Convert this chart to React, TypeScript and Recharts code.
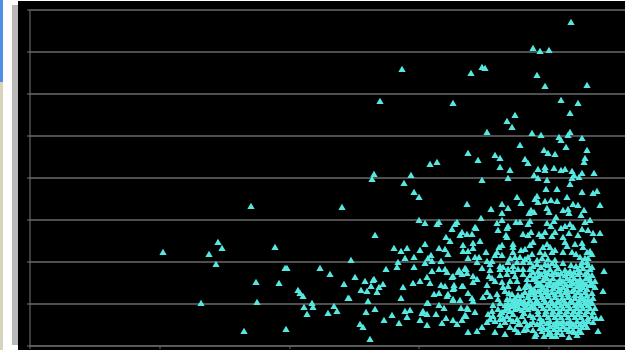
import { ScatterChart, Scatter, XAxis, YAxis, ZAxis, CartesianGrid } from 'recharts';

const xTicks = [0, 130, 260, 389, 519];
const yTicks = [0, 42, 84, 126, 168, 210, 252, 294, 336];

// far left and upper outliers
const outliers = [
  [541,323],[503,297],[510,294],[519,295],[452,278],[455,277],[441,272],[507,270],[515,259],[557,260],
  [423,242],[531,245],[548,242],[540,232],[485,230],[477,224],[482,218],[457,213],[502,212],[511,210],
  [540,213],[538,210],[529,208],[531,205],[552,207],[490,200],[536,198],[514,195],[518,192],[525,191],
  [557,195],[438,192],[465,190],[470,187],[448,185],[495,186],[498,182],[555,187],[554,183],[470,178],
  [480,175],[508,176],[515,178],[515,175],[524,177],[531,175],[535,176],[542,174],[552,172],[564,172],
  [544,170],[504,170],[508,167],[478,167],[452,165],[517,165],[549,168],[542,167],[540,161],[516,156],
  [527,156],[552,153],[567,154],[563,152],[537,148],[487,148],[491,142],[507,149],[505,146],[508,143],
  [515,144],[521,145],[527,144],[437,141],[472,141],[478,137],[461,136],[472,132],[517,137],[519,133],
  [533,135],[538,136],[539,132],[543,141],[548,140],[554,135],[570,140],[551,130],[501,135],[504,133],
  [499,132],[451,127],[526,128],[524,124],[560,125],[555,123],[472,125],[486,123],[490,123],[500,124],
  [498,121],[427,123],[467,122],[517,122],[521,119],[540,121],[535,119],[478,119],[445,118],
  [372,276],[350,244],[407,183],[400,181],[344,171],[342,166],[381,170],[374,162],[384,153],[389,148],
  [312,138],[221,139],[188,103],[192,97],[133,93],[179,91],[245,98],[186,81],[255,77],[257,77],
  [226,63],[249,62],[268,55],[171,42],[227,43],[214,14],[256,16],
];

// middle of the cloud
const midBand = [
  [389,125],[395,122],[409,123],[407,121],[425,121],[345,110],[422,116],[432,113],[430,110],[437,111],
  [416,108],[420,104],[395,101],[433,100],[364,97],[377,97],[371,94],[390,95],[409,97],[415,96],
  [433,94],[438,94],[418,91],[401,90],[375,87],[384,88],[398,87],[438,87],[321,85],[368,83],
  [411,84],[395,82],[402,84],[367,78],[384,78],[290,77],[356,76],[402,74],[409,76],[415,76],
  [417,73],[429,75],[436,76],[432,71],[437,72],[300,71],[325,68],[397,68],[422,68],[335,64],
  [344,66],[343,65],[383,62],[390,64],[400,62],[314,61],[353,61],[349,58],[341,59],[373,58],
  [411,60],[415,59],[424,60],[432,59],[331,55],[337,54],[347,53],[409,52],[404,51],[418,51],
  [417,49],[424,57],[438,52],[319,47],[318,47],[371,47],[423,45],[430,45],[338,44],[273,49],
  [270,52],[397,42],[398,42],[282,42],[274,38],[283,38],[304,39],[409,40],[414,37],[431,37],
  [438,36],[336,33],[345,36],[375,34],[380,35],[298,32],[307,34],[277,31],[393,34],[392,32],
  [397,31],[406,31],[362,30],[435,30],[377,28],[416,27],[354,25],[390,25],[423,25],[432,25],
  [369,22],[412,22],[427,21],[330,21],[333,18],[397,20],[438,13],[340,6],
];

// dense lower right block
const denseBand = [
  [477,117],[468,115],[501,113],[531,117],[543,118],[552,116],[558,115],[563,112],[570,112],[442,111],
  [446,117],[476,110],[477,108],[493,111],[498,110],[509,111],[515,113],[512,109],[525,113],[522,109],
  [533,108],[539,112],[548,110],[564,105],[450,104],[443,102],[472,100],[469,98],[483,101],[483,98],
  [503,103],[500,100],[495,96],[517,101],[513,98],[520,98],[535,103],[537,99],[545,101],[552,102],
  [553,98],[557,93],[560,94],[443,97],[456,93],[467,93],[465,90],[472,90],[483,93],[491,95],
  [502,91],[510,93],[515,91],[522,93],[525,95],[533,93],[542,93],[546,91],[445,88],[449,88],
  [457,84],[462,84],[460,81],[447,83],[480,87],[485,88],[490,88],[495,86],[498,88],[507,85],
  [512,87],[518,86],[525,85],[550,88],[555,87],[558,87],[562,91],[478,83],[487,83],[493,83],
  [500,83],[507,81],[515,81],[522,82],[552,83],[557,83],[470,79],[483,79],[435,77],[428,73],
  [452,77],[460,75],[459,69],[470,76],[473,78],[478,76],[483,74],[488,76],[493,76],[500,76],
  [503,73],[508,74],[515,74],[520,76],[528,77],[535,75],[540,74],[548,76],[553,77],[560,76],
  [574,74],[423,69],[443,69],[447,66],[443,63],[470,70],[477,71],[485,69],[493,71],[500,70],
  [508,69],[515,69],[522,71],[528,71],[535,70],[542,70],[548,71],[555,71],[562,70],[462,67],
  [465,64],[457,60],[472,63],[480,64],[487,64],[507,64],[513,65],[520,64],[527,63],[533,64],
  [540,65],[547,64],[553,63],[560,65],[565,64],[433,59],[473,58],[478,59],[500,59],[507,60],
  [513,58],[520,60],[527,59],[533,58],[540,60],[547,59],[553,58],[560,60],[565,58],[573,54],
  [457,53],[442,47],[423,56],[423,46],[453,48],[460,49],[467,51],[475,54],[482,51],[488,50],
  [495,53],[502,53],[508,54],[515,53],[522,53],[528,54],[535,53],[542,54],[548,53],[555,53],
  [562,52],[468,46],[477,46],[483,44],[490,46],[498,48],[505,48],[512,48],[518,49],[525,48],
  [532,47],[538,48],[545,47],[552,47],[558,46],[563,47],[443,44],[463,40],[475,40],[480,39],
  [487,40],[495,41],[502,40],[508,42],[515,43],[522,42],[528,43],[535,42],[542,43],[548,42],
  [555,42],[562,42],[462,34],[468,36],[475,35],[437,37],[445,33],[480,34],[485,36],[492,35],
  [498,36],[505,37],[513,37],[520,37],[527,37],[533,37],[540,37],[547,37],[553,37],[560,37],
  [565,37],[436,29],[458,31],[463,29],[470,31],[477,29],[483,31],[492,29],[500,30],[508,31],
  [515,31],[522,31],[528,31],[535,31],[542,31],[548,31],[555,31],[562,29],[571,27],[566,27],
  [457,23],[452,18],[447,14],[465,24],[470,20],[475,23],[483,24],[490,21],[485,16],[495,24],
  [500,21],[507,21],[513,24],[520,24],[527,24],[533,24],[540,24],[547,24],[553,24],[558,24],
  [563,23],[552,18],[557,18],[568,14],[513,18],[520,19],[527,19],[533,19],[540,19],[546,19],
  [465,13],[475,11],[488,13],[497,16],[506,11],[512,14],[520,13],[527,13],[539,14],[532,11],
  [522,9],[539,8],[547,10],[505,9],
];

// extra marks where the block merges into one solid area
const solidCore = [
  [503,79],[511,78],[518,80],[526,80],[533,82],[541,80],[546,79],[551,80],[558,80],[562,78],
  [505,68],[511,71],[518,72],[525,73],[531,72],[538,72],[544,73],[550,73],[557,73],[559,68],
  [497,66],[503,66],[510,62],[517,67],[523,67],[530,66],[537,67],[544,67],[550,66],[556,67],
  [497,61],[504,56],[510,60],[517,61],[524,61],[530,62],[536,61],[543,62],[550,61],[556,61],
  [562,61],[489,57],[495,58],[501,56],[511,56],[517,56],[523,57],[530,56],[537,56],[544,56],
  [550,56],[557,56],[479,52],[485,47],[492,50],[499,51],[505,51],[511,51],[518,51],[525,51],
  [531,51],[538,51],[545,50],[551,50],[557,50],[480,46],[487,44],[494,44],[500,45],[507,45],
  [514,46],[521,45],[528,45],[534,45],[541,45],[549,45],[555,45],[561,44],[470,42],[478,42],
  [484,42],[491,42],[498,42],[505,42],[511,40],[518,40],[525,40],[531,40],[538,40],[545,40],
  [551,40],[558,40],[472,33],[478,37],[483,39],[489,37],[495,38],[501,38],[508,34],[516,34],
  [523,34],[530,34],[537,34],[544,34],[550,34],[557,34],[563,33],[473,27],[480,26],[487,26],
  [494,32],[503,28],[510,27],[518,28],[525,28],[531,28],[538,28],[545,28],[551,28],[558,27],
  [488,21],[497,20],[503,23],[510,22],[517,22],[524,21],[530,22],[537,22],[543,21],[550,21],
  [555,21],[494,15],[503,15],[510,17],[517,16],[524,16],[530,16],[536,16],[543,15],[549,15],
  [480,18],[470,26],[460,26],[518,11],[526,9],[544,13],[551,13],[514,9],
];

const scatterData = [...outliers, ...midBand, ...denseBand, ...solidCore].map(([x, y]) => ({ x, y, z: 1 }));

export default function App() {
  return (
    <div style={{ position: 'absolute', left: 0, top: 0, width: 625, height: 350, background: '#fff', overflow: 'hidden' }}>
      {/* window edges around the chart */}
      <div style={{ position: 'absolute', left: 0, top: 0, width: 3, height: 82, background: '#4f8fe8' }} />
      <div style={{ position: 'absolute', left: 0, top: 82, width: 3, height: 268, background: '#d6d5bb' }} />
      <div style={{ position: 'absolute', left: 12, top: 5, width: 6, height: 340, background: '#b9b9b9' }} />
      <div style={{ position: 'absolute', left: 18, top: 1, width: 607, height: 349, background: '#000' }} />
      <div style={{ position: 'absolute', left: 0, top: 0, filter: 'blur(0.4px)' }}>
        <ScatterChart width={625} height={350} margin={{ top: 10, right: 0, bottom: 0, left: 0 }}>
          <CartesianGrid horizontal vertical={false} stroke="#6a6a6a" strokeWidth={1.3} />
          <XAxis
            type="number"
            dataKey="x"
            domain={[0, 595]}
            ticks={xTicks}
            height={4}
            tickSize={3}
            stroke="#666"
            tickFormatter={() => ''}
          />
          <YAxis
            type="number"
            dataKey="y"
            domain={[0, 336]}
            ticks={yTicks}
            width={30}
            tickSize={3}
            stroke="#777"
            tickFormatter={() => ''}
          />
          <ZAxis dataKey="z" range={[23, 23]} />
          <Scatter data={scatterData} shape="triangle" fill="#56e8e0" isAnimationActive={false} />
        </ScatterChart>
      </div>
    </div>
  );
}
